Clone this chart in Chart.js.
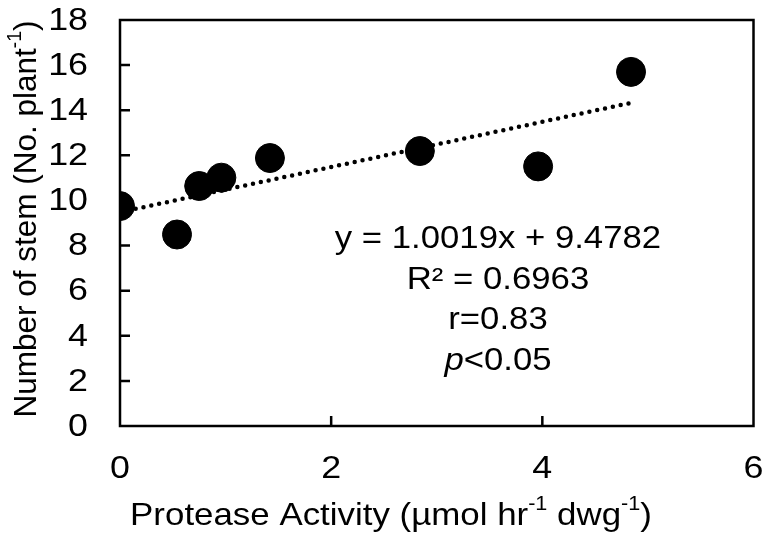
<!DOCTYPE html>
<html>
<head>
<meta charset="utf-8">
<script src="https://cdn.jsdelivr.net/npm/chart.js@4"></script>
<style>
  html, body { margin: 0; padding: 0; background: #fff; }
  #wrap { width: 769px; height: 537px; }
</style>
</head>
<body>
<div id="wrap"><canvas id="chartCanvas" width="769" height="537"></canvas></div>
<script>
// protease activity vs number of stems
const activity = [0, 0.54, 0.75, 0.96, 1.42, 2.84, 3.96, 4.84];
const stems    = [9.75, 8.49, 10.64, 11.01, 11.88, 12.19, 11.51, 15.7];

const xTicks = [0, 2, 4, 6];
const yTicks = [0, 2, 4, 6, 8, 10, 12, 14, 16, 18];

// fitted line shown in the picture
const slope = 1.0019;
const intercept = 9.4782;
const trendX = [0, 4.84];

const statLines = ['y = 1.0019x + 9.4782', 'R\u00b2 = 0.6963', 'r=0.83', 'p<0.05'];

const FONT = '"Liberation Sans", Arial, sans-serif';
// the original lettering is a little wider than Arial
const TEXT_SX = 1.12;

// draw text parts [text, sup?, italic?] centred on cx, stretched by sx
function drawParts(ctx, parts, size, cx, cy, sx) {
  const pieces = parts.map(p => {
    const s = p.sup ? size * 0.62 : size;
    const f = (p.italic ? 'italic ' : '') + s + 'px ' + FONT;
    ctx.font = f;
    return { text: p.t, font: f, w: ctx.measureText(p.t).width, dy: p.sup ? -size * 0.36 : 0 };
  });
  const total = pieces.reduce((a, p) => a + p.w, 0);
  ctx.save();
  ctx.translate(cx, cy);
  ctx.scale(sx, 1);
  let x = -total / 2;
  ctx.textAlign = 'left';
  ctx.textBaseline = 'middle';
  pieces.forEach(p => {
    ctx.font = p.font;
    ctx.fillText(p.text, x, p.dy);
    x += p.w;
  });
  ctx.restore();
}

function drawLabel(ctx, text, x, y, align) {
  ctx.save();
  ctx.translate(x, y);
  ctx.scale(TEXT_SX, 1);
  ctx.font = '32px ' + FONT;
  ctx.textAlign = align;
  ctx.textBaseline = 'middle';
  ctx.fillText(text, 0, 0);
  ctx.restore();
}

function noPad(s) {
  s.paddingTop = 0; s.paddingBottom = 0; s.paddingLeft = 0; s.paddingRight = 0;
}

const framePlugin = {
  id: 'frame',
  afterDraw(chart) {
    const { ctx, chartArea: a, scales } = chart;
    ctx.save();
    ctx.strokeStyle = '#000';
    ctx.lineWidth = 2.5;
    ctx.strokeRect(a.left, a.top, a.right - a.left, a.bottom - a.top);

    // inward tick marks
    ctx.beginPath();
    yTicks.slice(1, -1).forEach(v => {
      const y = scales.y.getPixelForValue(v);
      ctx.moveTo(a.left, y);
      ctx.lineTo(a.left + 10, y);
    });
    xTicks.slice(1, -1).forEach(v => {
      const x = scales.x.getPixelForValue(v);
      ctx.moveTo(x, a.bottom);
      ctx.lineTo(x, a.bottom - 10);
    });
    ctx.stroke();

    ctx.fillStyle = '#000';
    // tick labels
    yTicks.forEach(v => drawLabel(ctx, String(v), a.left - 32, scales.y.getPixelForValue(v) + 1, 'right'));
    xTicks.forEach(v => drawLabel(ctx, String(v), scales.x.getPixelForValue(v), a.bottom + 43, 'center'));

    // x title
    drawParts(ctx, [
      { t: 'Protease Activity (\u00b5mol hr' }, { t: '-1', sup: true },
      { t: ' dwg' }, { t: '-1', sup: true }, { t: ')' }
    ], 32, 391, 516, 1.09);

    // y title
    ctx.save();
    ctx.translate(27, 219);
    ctx.rotate(-Math.PI / 2);
    drawParts(ctx, [
      { t: 'Number of stem (No. plant' }, { t: '-1', sup: true }, { t: ')' }
    ], 31.5, 0, 0, 1);
    ctx.restore();

    // regression stats
    const cx = scales.x.getPixelForValue(3.58);
    let cy = scales.y.getPixelForValue(8.25);
    statLines.forEach(line => {
      if (line.startsWith('p')) {
        drawParts(ctx, [{ t: 'p', italic: true }, { t: line.slice(1) }], 31, cx, cy, TEXT_SX);
      } else {
        drawParts(ctx, [{ t: line }], 31, cx, cy, TEXT_SX);
      }
      cy += 40.5;
    });
    ctx.restore();
  }
};

new Chart(document.getElementById('chartCanvas').getContext('2d'), {
  type: 'scatter',
  data: {
    datasets: [
      {
        type: 'line',
        label: 'Linear',
        data: trendX.map(x => ({ x, y: slope * x + intercept })),
        borderColor: '#000',
        borderWidth: 4.5,
        borderDash: [0, 8],
        borderCapStyle: 'round',
        pointRadius: 0,
        fill: false
      },
      {
        label: 'Stems',
        data: activity.map((x, k) => ({ x, y: stems[k] })),
        backgroundColor: '#000',
        borderColor: '#000',
        pointRadius: 14.5,
        pointHoverRadius: 14.5
      }
    ]
  },
  options: {
    responsive: false,
    animation: false,
    layout: { padding: { top: 20, right: 12, left: 0, bottom: 0 } },
    plugins: { legend: { display: false }, tooltip: { enabled: false } },
    scales: {
      x: {
        type: 'linear',
        min: 0, max: 6,
        afterBuildTicks: s => { s.ticks = xTicks.map(v => ({ value: v })); },
        afterFit: s => { s.height = 111; noPad(s); },
        grid: { display: false },
        border: { display: false },
        ticks: { display: false }
      },
      y: {
        min: 0, max: 18,
        afterBuildTicks: s => { s.ticks = yTicks.map(v => ({ value: v })); },
        afterFit: s => { s.width = 120; noPad(s); },
        grid: { display: false },
        border: { display: false },
        ticks: { display: false }
      }
    }
  },
  plugins: [framePlugin]
});
</script>
</body>
</html>
